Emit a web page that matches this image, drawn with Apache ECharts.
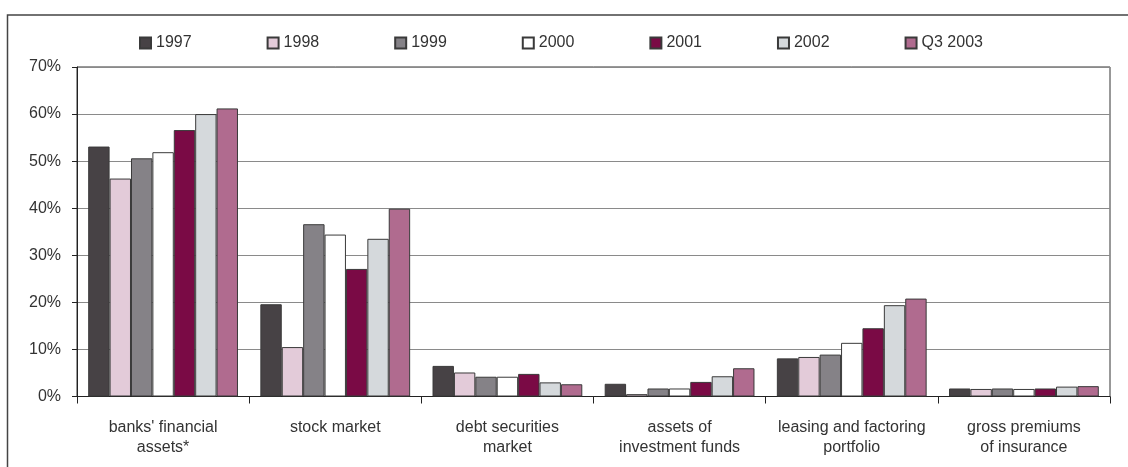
<!DOCTYPE html>
<html>
<head>
<meta charset="utf-8">
<script src="https://cdn.jsdelivr.net/npm/echarts@6/dist/echarts.min.js"></script>
<style>
html,body{margin:0;padding:0;background:#fff;}
#chart{width:1128px;height:467px;}
</style>
</head>
<body>
<div id="chart"></div>
<script>
const categories = ["banks' financial\nassets*", "stock market", "debt securities\nmarket", "assets of\ninvestment funds", "leasing and factoring\nportfolio", "gross premiums\nof insurance"];
const seriesNames = ["1997", "1998", "1999", "2000", "2001", "2002", "Q3 2003"];
const v1997 = [53.1, 19.6, 6.5, 2.7, 8.1, 1.7];
const v1998 = [46.3, 10.5, 5.1, 0.5, 8.4, 1.6];
const v1999 = [50.6, 36.6, 4.2, 1.7, 8.9, 1.7];
const v2000 = [51.9, 34.4, 4.2, 1.7, 11.4, 1.6];
const v2001 = [56.6, 27.1, 4.8, 3.1, 14.5, 1.7];
const v2002 = [60.0, 33.5, 3.0, 4.3, 19.4, 2.1];
const vQ3_2003 = [61.2, 39.9, 2.6, 6.0, 20.8, 2.2];
const yTicks = [0, 10, 20, 30, 40, 50, 60, 70];

const allValues = [v1997, v1998, v1999, v2000, v2001, v2002, vQ3_2003];
const colors = ['#474245', '#e3cbd9', '#858287', '#ffffff', '#7a0a45', '#d5d9dc', '#b06b8f'];

const chart = echarts.init(document.getElementById('chart'), null, {renderer: 'canvas'});
const font = 'Arial, "Liberation Sans", sans-serif';

chart.setOption({
  animation: false,
  backgroundColor: '#ffffff',
  textStyle: {fontFamily: font},
  graphic: [{
    type: 'rect',
    shape: {x: 7.5, y: 15, width: 1200, height: 500},
    style: {fill: 'none', stroke: '#444', lineWidth: 1.5},
    silent: true
  }],
  legend: {
    left: 134,
    top: 30,
    itemWidth: 11,
    itemHeight: 11,
    itemGap: 75,
    icon: 'rect',
    textStyle: {fontSize: 16, color: '#333', fontFamily: font},
    data: seriesNames
  },
  grid: {
    left: 77, right: 18, top: 67, bottom: 70.5,
    show: true, borderColor: '#333', borderWidth: 1, backgroundColor: 'transparent'
  },
  xAxis: {
    type: 'category',
    data: categories,
    axisLine: {lineStyle: {color: '#222', width: 1}},
    axisTick: {show: true, length: 7, lineStyle: {color: '#222'}, alignWithLabel: false},
    axisLabel: {fontSize: 16, color: '#333', lineHeight: 20, margin: 21, interval: 0, fontFamily: font}
  },
  yAxis: {
    type: 'value',
    min: yTicks[0],
    max: yTicks[yTicks.length - 1],
    interval: 10,
    axisLine: {show: true, lineStyle: {color: '#222', width: 1}},
    axisTick: {show: true, length: 5, lineStyle: {color: '#222'}},
    axisLabel: {fontSize: 16, color: '#333', margin: 16, formatter: '{value}%', fontFamily: font},
    splitLine: {show: true, lineStyle: {color: '#8a8a8a', width: 1.2}}
  },
  series: seriesNames.map((name, i) => ({
    name: name,
    type: 'bar',
    data: allValues[i],
    barGap: '0%',
    barCategoryGap: '13%',
    itemStyle: {color: colors[i], borderColor: '#3a3a3a', borderWidth: 1}
  }))
});
</script>
</body>
</html>
